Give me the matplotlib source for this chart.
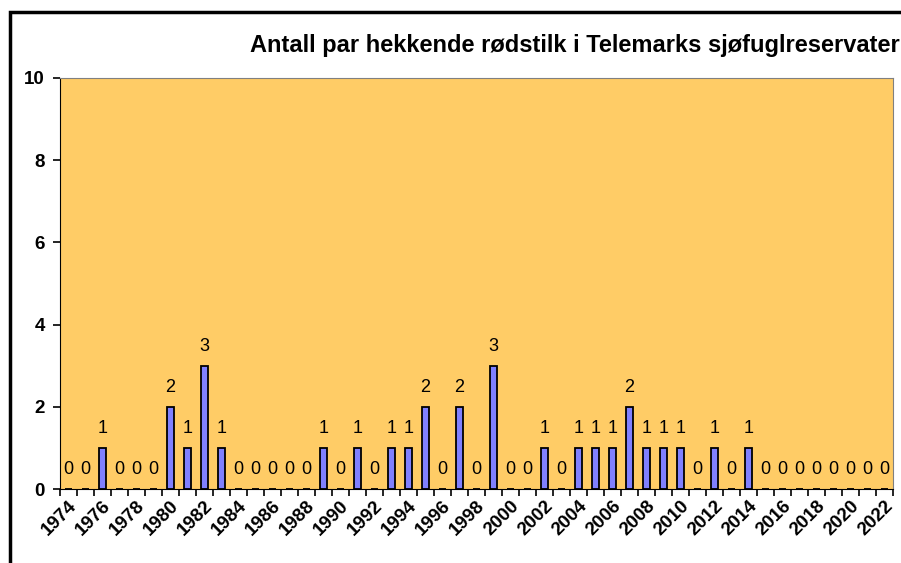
import matplotlib.pyplot as plt
from matplotlib.patches import Rectangle

years = list(range(1974, 2023))
pairs = [0, 0, 1, 0, 0, 0, 2, 1, 3, 1,
         0, 0, 0, 0, 0, 1, 0, 1, 0, 1,
         1, 2, 0, 2, 0, 3, 0, 0, 1, 0,
         1, 1, 1, 2, 1, 1, 1, 0, 1, 0,
         1, 0, 0, 0, 0, 0, 0, 0, 0]
title = "Antall par hekkende rødstilk i Telemarks sjøfuglreservater"

plt.rcParams['font.family'] = ['Liberation Sans', 'DejaVu Sans']

fig = plt.figure(figsize=(9.01, 5.63), dpi=100)
ax = fig.add_axes([60 / 901, 74 / 563, 833 / 901, 411 / 563])
ax.set_facecolor('#FFCC66')

x = list(range(len(years)))
bars = ax.bar(x, pairs, width=0.42, color='#8080FF', edgecolor='black', linewidth=1.3)
for xi, v in zip(x, pairs):
    ax.text(xi, v + 0.27, str(v), ha='center', va='bottom', fontsize=13)

ax.set_xlim(-0.5, len(years) - 0.5)
ax.set_ylim(0, 10)
ax.set_yticks(range(0, 11, 2))
ax.set_yticklabels([str(t) for t in range(0, 11, 2)], fontweight='bold', fontsize=13.5)

# ticks on category boundaries, labels on every second category
ax.set_xticks([i - 0.5 for i in range(len(years) + 1)])
ax.set_xticklabels([])
ax.set_xticks(x[::2], minor=True)
ax.set_xticklabels([str(y) for y in years[::2]], minor=True, rotation=45,
                   ha='right', rotation_mode='anchor', fontweight='bold', fontsize=13.5)
ax.tick_params(axis='x', which='major', direction='out', length=5, width=1.2)
ax.tick_params(axis='x', which='minor', length=0, pad=6)
ax.tick_params(axis='y', direction='out', length=5, width=1.2, pad=6)

ax.spines['top'].set_color('#808080')
ax.spines['right'].set_color('#808080')
ax.spines['left'].set_color('black')
ax.spines['bottom'].set_color('black')

fig.text(0.999, 0.92, title, ha='right', va='center', fontsize=17, fontweight='bold')

# outer chart frame
fig.patches.append(Rectangle((10 / 901, -0.05), 1.0, 1 - 12 / 563 + 0.05,
                             transform=fig.transFigure, fill=False,
                             edgecolor='black', linewidth=2.5))

fig.savefig('out.png', dpi=100)
